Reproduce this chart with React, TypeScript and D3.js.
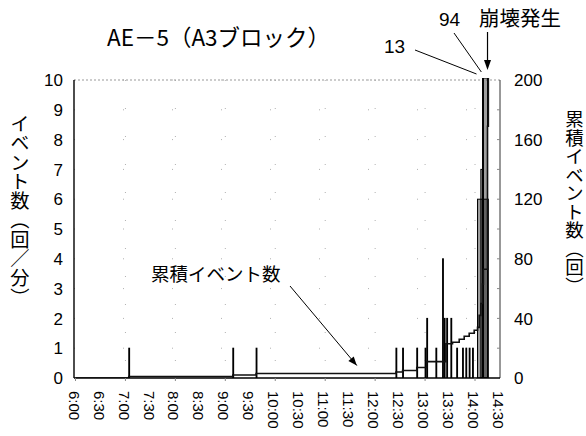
import React from "react";
import * as d3 from "d3";

// Events per minute (start time, bar duration in minutes, count)
const eventTimes = [
  "7:04", "9:09", "9:37", "12:25", "12:33", "12:50", "13:00", "13:02", "13:13",
  "13:21", "13:23", "13:26", "13:31", "13:38", "13:45", "13:49", "13:53", "13:57",
  "14:03", "14:07", "14:09", "14:10",
];
const eventMinutes = [1, 1, 1, 1, 1, 1, 1, 1, 1, 1, 1, 1, 1, 1, 1, 1, 1, 1, 13, 3, 1, 5];
const eventCounts = [1, 1, 1, 1, 1, 1, 1, 2, 1, 4, 2, 2, 2, 1, 1, 1, 1, 1, 6, 7, 13, 94];

// Cumulative event count (right axis)
const cumTimes = [
  "6:00", "7:04", "9:09", "9:37", "12:25", "12:33", "12:50", "13:02", "13:25", "13:33",
  "13:41", "13:47", "13:53", "13:59", "14:03", "14:05", "14:07", "14:09", "14:10", "14:15", "14:16",
];
const cumValues = [0, 1, 2, 3, 4, 5, 7, 11, 23, 24, 26, 28, 30, 32, 34, 42, 50, 63, 73, 169, 240];

const xTickLabels = [
  "6:00", "6:30", "7:00", "7:30", "8:00", "8:30", "9:00", "9:30", "10:00", "10:30",
  "11:00", "11:30", "12:00", "12:30", "13:00", "13:30", "14:00", "14:30",
];
const leftTicks = [0, 1, 2, 3, 4, 5, 6, 7, 8, 9, 10];
const rightTicks = [0, 40, 80, 120, 160, 200];

const title = "AE－5（A3ブロック）";
const leftTitle = "イベント数（回／分）";
const rightTitle = "累積イベント数（回）";
const cumNote = "累積イベント数";
const collapseNote = "崩壊発生";

const toMin = (s: string) => {
  const [h, m] = s.split(":").map(Number);
  return h * 60 + m;
};

const W = 586;
const H = 436;
const left = 74;
const right = 500;
const top = 80;
const bottom = 378;

const jp = "'Noto Sans CJK JP', 'Noto Sans', sans-serif";
const num = "'Liberation Sans', Arial, sans-serif";

export default function App() {
  const x = d3.scaleLinear().domain([toMin("6:00"), toMin("14:30")]).range([75.5, right]);
  const yL = d3.scaleLinear().domain([0, 10]).range([bottom, top]);
  const yR = d3.scaleLinear().domain([0, 200]).range([bottom, top]);

  const bars = eventTimes.map((t, i) => ({
    t0: toMin(t),
    t1: toMin(t) + eventMinutes[i],
    v: eventCounts[i],
  }));

  const cumPts: [number, number][] = cumTimes.map((t, i) => [toMin(t), cumValues[i]]);
  const cumLine = d3
    .line<[number, number]>()
    .x((d) => x(d[0]))
    .y((d) => yR(d[1]))
    .curve(d3.curveStepAfter)(cumPts);

  const hours = d3.range(7, 15).map((h) => h * 60);
  const minorR = d3.range(20, 200, 20);

  const bar13 = bars.find((b) => b.v === 13)!;
  const bar94 = bars.find((b) => b.v === 94)!;
  const collapseX = x(bar94.t1);
  const noteTip: [number, number] = [x(toMin("11:38")), yR(3) - 8];
  const noteStart: [number, number] = [290, 286];
  const ang = Math.atan2(noteTip[1] - noteStart[1], noteTip[0] - noteStart[0]);
  const ah = 9;
  const aw = 3.5;
  const arrowHead = [
    noteTip,
    [noteTip[0] - ah * Math.cos(ang) + aw * Math.sin(ang), noteTip[1] - ah * Math.sin(ang) - aw * Math.cos(ang)],
    [noteTip[0] - ah * Math.cos(ang) - aw * Math.sin(ang), noteTip[1] - ah * Math.sin(ang) + aw * Math.cos(ang)],
  ]
    .map((p) => p.join(","))
    .join(" ");

  return (
    <svg width={W} height={H} style={{ position: "absolute", left: 0, top: 0, background: "#fff" }}>
      <defs>
        <clipPath id="plotClip">
          <rect x={left} y={top - 2} width={right - left + 2} height={bottom - top + 2} />
        </clipPath>
      </defs>

      {/* sparse dotted grid */}
      <g stroke="#b0b0b0" strokeWidth={1}>
        {leftTicks.slice(1).map((v) => (
          <line key={"h" + v} x1={left} x2={right} y1={yL(v)} y2={yL(v)} strokeDasharray="1,48" />
        ))}
        {hours.map((m) => (
          <line key={"v" + m} x1={x(m)} x2={x(m)} y1={top} y2={bottom} strokeDasharray="1,27" />
        ))}
      </g>

      {/* top frame */}
      <line x1={left} x2={right} y1={top} y2={top} stroke="#999" strokeDasharray="2,2" />
      {/* right axis */}
      <line x1={right} x2={right} y1={top} y2={bottom} stroke="#333" strokeWidth={1} />
      {minorR.map((v) => (
        <line key={"rt" + v} x1={right - 3} x2={right} y1={yR(v)} y2={yR(v)} stroke="#888" />
      ))}

      {/* event bars */}
      <g clipPath="url(#plotClip)">
        {bars.map((b, i) => (
          <rect
            key={i}
            x={x(b.t0)}
            width={x(b.t1) - x(b.t0)}
            y={yL(Math.min(b.v, 10)) - (b.v > 10 ? 2 : 0)}
            height={bottom - yL(Math.min(b.v, 10)) + (b.v > 10 ? 2 : 0)}
            fill="#000"
            fillOpacity={0.38}
            stroke="#000"
            strokeWidth={1}
          />
        ))}
        <path d={cumLine ?? ""} fill="none" stroke="#111" strokeWidth={1.6} />
      </g>

      {/* left and bottom axes */}
      <line x1={left} x2={left} y1={top} y2={bottom} stroke="#000" strokeWidth={1.4} />
      <line x1={left} x2={right} y1={bottom} y2={bottom} stroke="#000" strokeWidth={1.6} />
      {hours.concat([toMin("6:00")]).map((m) => (
        <line key={"xt" + m} x1={x(m)} x2={x(m)} y1={bottom} y2={bottom + 3} stroke="#888" />
      ))}

      {/* tick labels */}
      {leftTicks.map((v) => (
        <text key={"l" + v} x={63} y={yL(v)} dy="0.36em" textAnchor="end" fontFamily={num} fontSize={17} fill="#000">
          {v}
        </text>
      ))}
      {rightTicks.map((v) => (
        <text key={"r" + v} x={514} y={yR(v)} dy="0.36em" textAnchor="start" fontFamily={num} fontSize={17} fill="#000">
          {v}
        </text>
      ))}
      {xTickLabels.map((s) => {
        const xx = x(toMin(s)) - 1.5;
        return (
          <text
            key={"x" + s}
            transform={`translate(${xx},391) rotate(90)`}
            dy="0.36em"
            textAnchor="start"
            fontFamily={num}
            fontSize={15}
            fill="#000"
          >
            {s}
          </text>
        );
      })}

      {/* titles */}
      <text x={107} y={46} fontFamily={jp} fontSize={22.5} fill="#000">
        {title}
      </text>
      <text x={20} y={114} fontFamily={jp} fontSize={19.3} fill="#000" style={{ writingMode: "vertical-rl" }}>
        {leftTitle}
      </text>
      <text x={574.5} y={110} fontFamily={jp} fontSize={18.5} fill="#000" style={{ writingMode: "vertical-rl" }}>
        {rightTitle}
      </text>

      {/* cumulative note with arrow */}
      <text x={151} y={281} fontFamily={jp} fontSize={18.5} fill="#000">
        {cumNote}
      </text>
      <line x1={noteStart[0]} y1={noteStart[1]} x2={noteTip[0]} y2={noteTip[1]} stroke="#000" strokeWidth={1} />
      <polygon points={arrowHead} fill="#000" />

      {/* value labels for clipped bars */}
      <text x={384} y={53} fontFamily={num} fontSize={19} fill="#000">
        {bar13.v}
      </text>
      <line x1={415} y1={50} x2={x(bar13.t0) - 6} y2={top - 6} stroke="#000" strokeWidth={1} />
      <text x={439} y={26} fontFamily={num} fontSize={19} fill="#000">
        {bar94.v}
      </text>
      <line x1={454} y1={33} x2={x(bar94.t0) - 2} y2={top - 8} stroke="#000" strokeWidth={1} />

      {/* collapse marker */}
      <text x={479} y={26} fontFamily={jp} fontSize={20.5} fill="#000">
        {collapseNote}
      </text>
      <line x1={collapseX} x2={collapseX} y1={32} y2={63} stroke="#000" strokeWidth={1.2} />
      <polygon
        points={`${collapseX},${top - 10} ${collapseX - 3.5},${top - 20} ${collapseX + 3.5},${top - 20}`}
        fill="#000"
      />
    </svg>
  );
}
